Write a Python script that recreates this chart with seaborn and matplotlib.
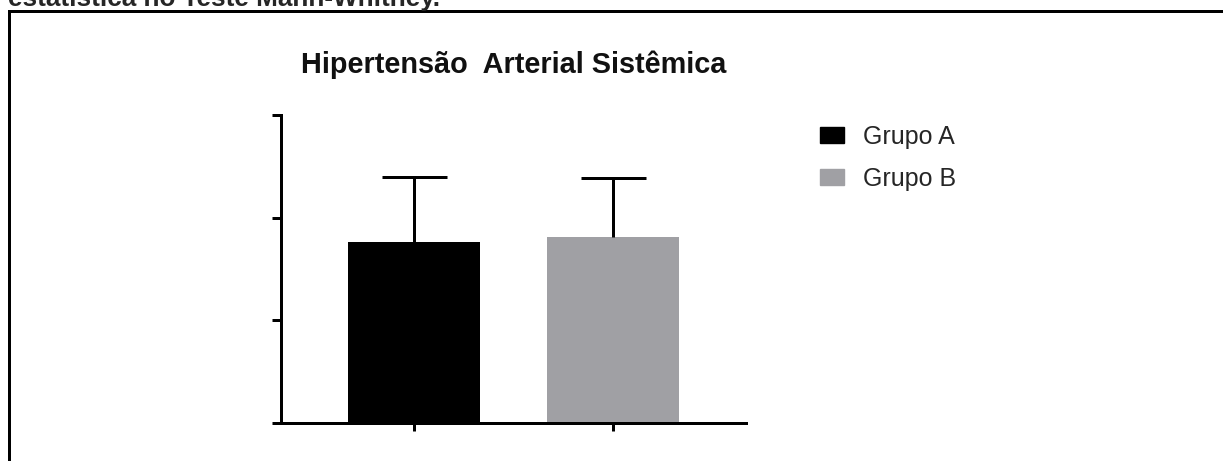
import pandas as pd
import matplotlib.pyplot as plt
import seaborn as sns
from matplotlib.lines import Line2D

# Valores (escala sem rótulos, 0 a 3)
grupos = ['Grupo A', 'Grupo B']
medias = [1.76, 1.81]
erros = [0.635, 0.575]
cores = ['#000000', '#a0a0a4']
y_ticks = [0, 1, 2, 3]

titulo = 'Hipertensão  Arterial Sistêmica'
texto_topo = 'estatística no Teste Mann-Whitney.'

df = pd.DataFrame({'grupo': grupos, 'media': medias})

sns.set_style('ticks')
plt.rcParams['font.family'] = ['Liberation Sans', 'DejaVu Sans']

W, H = 1223, 461
fig = plt.figure(figsize=(W / 100, H / 100), dpi=100)
ax = fig.add_axes([281 / W, 1 - 423 / H, (746 - 281) / W, (423 - 115) / H])

lw = 2.16
sns.barplot(data=df, x='grupo', y='media', hue='grupo', palette=cores,
            saturation=1, width=0.66, linewidth=0, errorbar=None,
            legend=False, ax=ax)

eb = ax.errorbar(x=range(len(grupos)), y=medias, yerr=[[0] * len(erros), erros],
                 fmt='none', ecolor='black', elinewidth=lw, capsize=23.4,
                 capthick=lw)
# Só a barra de erro superior
for cap in eb[1]:
    if list(cap.get_ydata()) == medias:
        cap.set_visible(False)

ax.set_ylim(0, 3)
ax.set_xlim(-0.668, 1.668)
ax.set_yticks(y_ticks)
ax.set_yticklabels([])
ax.set_xticklabels([])
ax.set_xlabel('')
ax.set_ylabel('')
sns.despine(ax=ax)
for s in ['left', 'bottom']:
    ax.spines[s].set_linewidth(lw)
    ax.spines[s].set_color('black')
ax.tick_params(axis='y', direction='out', length=6.5, width=lw, color='black')
ax.tick_params(axis='x', direction='out', length=5.8, width=lw, color='black')

ax.set_title(titulo, fontsize=20.8, fontweight='bold', pad=30, color='#111111')

handles = [plt.Rectangle((0, 0), 1, 1, color=c) for c in cores]
ax.legend(handles, grupos, loc='upper left', bbox_to_anchor=(820 / W, 1 - 125 / H),
          bbox_transform=fig.transFigure, frameon=False, fontsize=18,
          handlelength=0.96, handleheight=0.64, handletextpad=0.76,
          labelspacing=0.72, borderpad=0, borderaxespad=0)

# Moldura e texto cortado no topo
fig.add_artist(Line2D([8.5 / W, 8.5 / W], [0, 1 - 11 / H], color='black',
                      linewidth=lw, transform=fig.transFigure))
fig.add_artist(Line2D([8.5 / W, 1], [1 - 11 / H, 1 - 11 / H], color='black',
                      linewidth=lw, transform=fig.transFigure,
                      solid_capstyle='projecting'))
fig.text(8 / W, 1 - 6 / H, texto_topo, fontsize=18.8, fontweight='bold',
         va='baseline', ha='left')

fig.savefig('out.png', dpi=100)
